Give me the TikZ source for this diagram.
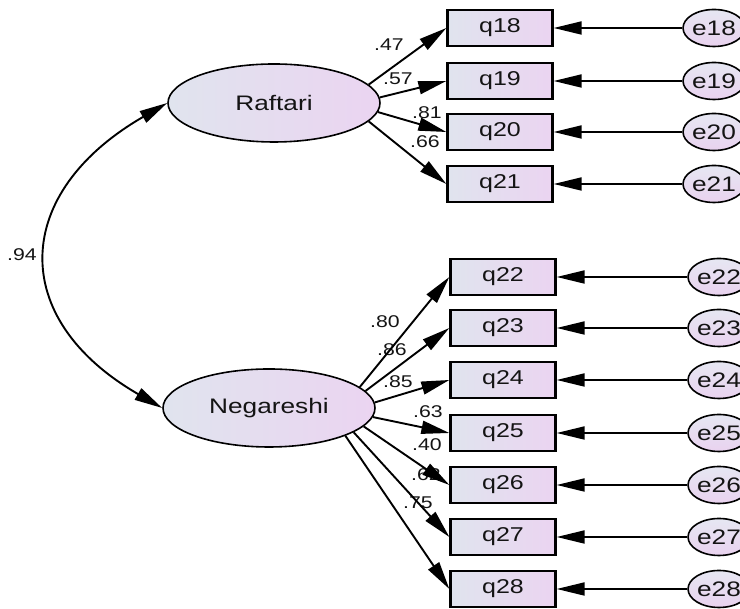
\documentclass[tikz,border=0pt]{standalone}
\usepackage{fontspec}
\setmainfont{Liberation Sans}[FakeStretch=1.25]
\usetikzlibrary{arrows.meta,shapes.geometric}
\definecolor{latblue}{HTML}{E0E4EE}
\definecolor{latpink}{HTML}{EBD4F1}
\definecolor{errtop}{HTML}{E6E7F2}
\definecolor{errbot}{HTML}{E9D2EF}
\definecolor{ink}{HTML}{141414}

\begin{document}
\begin{tikzpicture}[
    x=1pt, y=1pt,
    >={Triangle[length=28pt, width=13pt]},
    latent/.style={ellipse, draw, line width=1.6pt, minimum width=212pt, minimum height=78pt,
                   left color=latblue, right color=latpink, text=ink, font=\fontsize{21}{21}\selectfont},
    observed/.style={rectangle, draw, line width=2.3pt, minimum width=105pt, minimum height=36pt,
                     left color=latblue, right color=latpink, text=ink, font=\fontsize{20}{20}\selectfont},
    errcirc/.style={ellipse, draw, line width=1.6pt, minimum width=47pt, minimum height=37pt, inner sep=0pt,
                    top color=errtop, bottom color=errbot, text=ink, font=\fontsize{21}{21}\selectfont},
    loadarrow/.style={->, line width=1.9pt},
    errarrow/.style={->, line width=1.9pt},
    covarrow/.style={<->, line width=1.9pt},
    coef/.style={inner sep=0pt, text=ink, font=\fontsize{17}{17}\selectfont}
]
\useasboundingbox (0,0) rectangle (740,609);

% ---- Factors ----
\node[latent] (raftari) at (274, 506) {Raftari};
\node[latent] (negareshi) at (269, 201) {Negareshi};

% ---- Items of Raftari ----
\node[observed] (q18) at (500, 581) {q18};
\node[observed] (q19) at (500, 528) {q19};
\node[observed] (q20) at (500, 477) {q20};
\node[observed] (q21) at (500, 425) {q21};

% ---- Items of Negareshi ----
\node[observed] (q22) at (503, 332) {q22};
\node[observed] (q23) at (503, 281) {q23};
\node[observed] (q24) at (503, 229) {q24};
\node[observed] (q25) at (503, 176) {q25};
\node[observed] (q26) at (503, 124) {q26};
\node[observed] (q27) at (503, 72) {q27};
\node[observed] (q28) at (503, 20) {q28};

% ---- Error terms ----
\node[errcirc] (e18) at (714, 581) {e18};
\node[errcirc] (e19) at (714, 528) {e19};
\node[errcirc] (e20) at (714, 477) {e20};
\node[errcirc] (e21) at (714, 425) {e21};
\node[errcirc] (e22) at (719, 332) {e22};
\node[errcirc] (e23) at (719, 281) {e23};
\node[errcirc] (e24) at (719, 229) {e24};
\node[errcirc] (e25) at (719, 176) {e25};
\node[errcirc] (e26) at (719, 124) {e26};
\node[errcirc] (e27) at (719, 72) {e27};
\node[errcirc] (e28) at (719, 20) {e28};

% ---- Estimates ----
\node[coef] (c18) at (389, 564) {.47};
\node[coef] (c19) at (398, 530) {.57};
\node[coef] (c20) at (427, 496) {.81};
\node[coef] (c21) at (425, 467) {.66};
\node[coef] (c22) at (385, 287) {.80};
\node[coef] (c23) at (392, 259) {.86};
\node[coef] (c24) at (398, 227) {.85};
\node[coef] (c25) at (428, 197) {.63};
\node[coef] (c26) at (427, 164) {.40};
\node[coef] (c27) at (426, 134) {.62};
\node[coef] (c28) at (418, 106) {.75};
\node[coef] (cov) at (22, 354) {.94};

% ---- Loadings ----
\draw[loadarrow] (raftari.11) -- (q18.west);
\draw[loadarrow] (raftari.3) -- (q19.west);
\draw[loadarrow] (raftari.-5) -- (q20.west);
\draw[loadarrow] (raftari.-11) -- (q21.west);
\draw[loadarrow] (negareshi.13) -- (q22.west);
\draw[loadarrow] (negareshi.10) -- (q23.west);
\draw[loadarrow] (negareshi.3) -- (q24.west);
\draw[loadarrow] (negareshi.-5) -- (q25.west);
\draw[loadarrow] (negareshi.-11) -- (q26.west);
\draw[loadarrow] (negareshi.-16) -- (q27.west);
\draw[loadarrow] (negareshi.-20) -- (q28.west);

% ---- Errors ----
\draw[errarrow] (e18) -- (q18);
\draw[errarrow] (e19) -- (q19);
\draw[errarrow] (e20) -- (q20);
\draw[errarrow] (e21) -- (q21);
\draw[errarrow] (e22) -- (q22);
\draw[errarrow] (e23) -- (q23);
\draw[errarrow] (e24) -- (q24);
\draw[errarrow] (e25) -- (q25);
\draw[errarrow] (e26) -- (q26);
\draw[errarrow] (e27) -- (q27);
\draw[errarrow] (e28) -- (q28);

% ---- Covariance ----
\draw[covarrow] (raftari.west) to[out=210, in=150, looseness=1.5] (negareshi.west);

\end{tikzpicture}
\end{document}
